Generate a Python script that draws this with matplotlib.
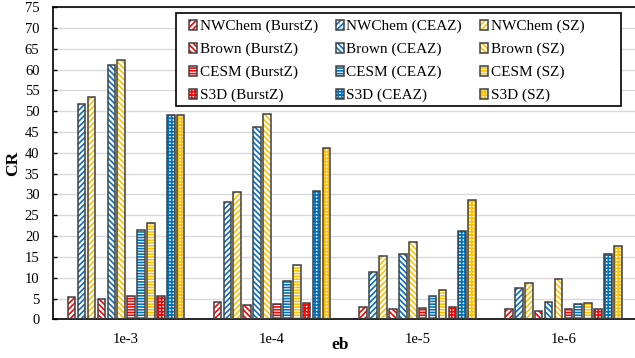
import numpy as np
import matplotlib
matplotlib.use('Agg')
import matplotlib.pyplot as plt
from matplotlib.patches import Patch, Rectangle
from matplotlib.legend_handler import HandlerTuple

plt.rcParams['font.family'] = ['Liberation Serif', 'DejaVu Serif']
plt.rcParams['hatch.linewidth'] = 1.2

ebs = ['1e-3', '1e-4', '1e-5', '1e-6']
datasets = ['NWChem', 'Brown', 'CESM', 'S3D']
codecs = ['BurstZ', 'CEAZ', 'SZ']

# CR values per dataset, codec, eb
cr = {
    ('NWChem', 'BurstZ'): [5.4, 4.1, 3.0, 2.4],
    ('NWChem', 'CEAZ'):   [51.7, 28.1, 11.3, 7.5],
    ('NWChem', 'SZ'):     [53.3, 30.6, 15.1, 8.7],
    ('Brown', 'BurstZ'):  [4.8, 3.4, 2.5, 2.0],
    ('Brown', 'CEAZ'):    [61.0, 46.2, 15.7, 4.2],
    ('Brown', 'SZ'):      [62.2, 49.3, 18.7, 9.6],
    ('CESM', 'BurstZ'):   [5.5, 3.7, 2.8, 2.5],
    ('CESM', 'CEAZ'):     [21.5, 9.1, 5.5, 3.8],
    ('CESM', 'SZ'):       [23.2, 13.1, 7.0, 4.0],
    ('S3D', 'BurstZ'):    [5.6, 4.0, 2.9, 2.4],
    ('S3D', 'CEAZ'):      [49.0, 30.9, 21.2, 15.6],
    ('S3D', 'SZ'):        [49.2, 41.2, 28.7, 17.5],
}

colors = {'BurstZ': '#FF0000', 'CEAZ': '#0070C0', 'SZ': '#FFC000'}
hatches = {'NWChem': '//////', 'Brown': '\\\\\\\\\\\\', 'CESM': '------', 'S3D': '+++++'}
edge = '#404040'

fig = plt.figure(figsize=(6.35, 3.58), dpi=100)
ax = fig.add_axes([0.084, 0.108, 0.918, 0.872])

x = np.arange(len(ebs))
slot = 0.068
width = 0.052
handles = {}
k = 0
for d in datasets:
    for c in codecs:
        off = (k - 5.5) * slot
        vals = cr[(d, c)]
        ax.bar(x + off, vals, width, color='white', edgecolor=colors[c],
               hatch=hatches[d], linewidth=0, zorder=2)
        ax.bar(x + off, vals, width, fill=False, edgecolor=edge,
               linewidth=1.1, zorder=3)
        handles[(d, c)] = (Patch(facecolor='white', edgecolor=colors[c], hatch=hatches[d], linewidth=0),
                           Patch(fill=False, edgecolor=edge, linewidth=1.1))
        k += 1

ax.set_xlim(-0.5, len(ebs) - 0.5)
ax.set_ylim(0, 75)
ax.set_yticks(np.arange(0, 76, 5))
ax.set_xticks(x)
ax.set_xticklabels(ebs)
ax.tick_params(axis='x', length=0, pad=10, labelsize=10.5)
ax.tick_params(axis='y', direction='in', length=3, width=1, pad=10, labelsize=10.5)
ax.grid(axis='y', color='#D9D9D9', linewidth=1.0, zorder=0)
ax.set_axisbelow(True)
for s in ['left', 'bottom', 'top']:
    ax.spines[s].set_color('black')
    ax.spines[s].set_linewidth(1.2)
ax.spines['right'].set_visible(False)

ax.set_ylabel('CR', fontsize=12.5, fontweight='bold', va='center')
ax.yaxis.set_label_coords(-0.069, 0.5)
ax.set_xlabel('eb', fontsize=12.5, fontweight='bold', va='center')
ax.xaxis.set_label_coords(0.492, -0.082)

# legend box (Excel style, wider on the right)
W, H = 635.0, 358.0
ax.add_patch(Rectangle((176 / W, 1 - 106 / H), (621 - 176) / W, (106 - 12.7) / H,
                       transform=fig.transFigure, facecolor='white', edgecolor='black',
                       linewidth=1.2, zorder=4, clip_on=False))

order = [(d, c) for c in codecs for d in datasets]
leg = ax.legend([handles[o] for o in order], ['%s (%s)' % o for o in order],
                handler_map={tuple: HandlerTuple(ndivide=1, pad=0)},
                ncol=3, loc='upper left', bbox_to_anchor=(189 / W, 1 - 20.0 / H),
                bbox_transform=fig.transFigure, borderaxespad=0, borderpad=0,
                fontsize=11, frameon=False,
                handlelength=0.55, handleheight=0.6, handletextpad=0.15,
                columnspacing=1.17, labelspacing=0.62)
leg.set_zorder(5)

fig.savefig('out.png', dpi=100)
